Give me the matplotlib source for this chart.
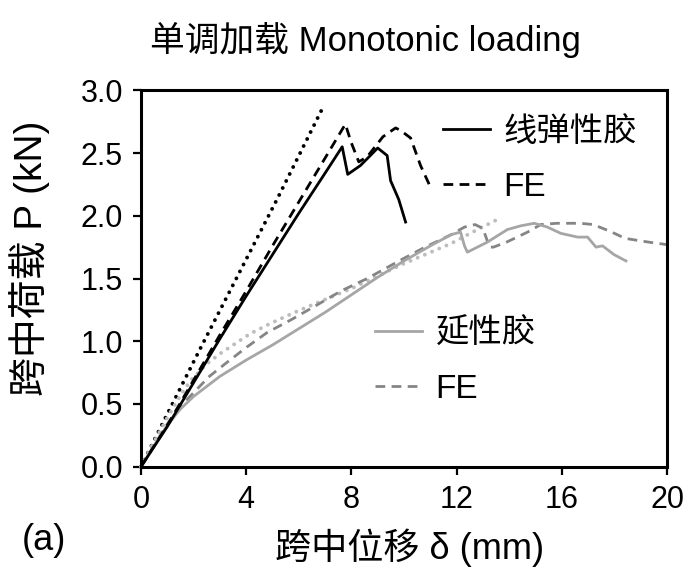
import matplotlib
matplotlib.use("Agg")
import matplotlib.pyplot as plt
from matplotlib.lines import Line2D

plt.rcParams['font.family'] = ['Liberation Sans', 'Noto Sans CJK SC', 'DejaVu Sans']

# ---- data ----
# 线弹性胶 experimental (black solid)
lin_exp_x = [0, 1.0, 2.0, 3.0, 4.0, 5.0, 6.0, 7.0, 7.65, 7.86, 8.34, 8.72, 9.0, 9.36, 9.49, 9.8, 10.06]
lin_exp_y = [0, 0.32, 0.67, 1.02, 1.36, 1.69, 2.02, 2.34, 2.55, 2.33, 2.40, 2.48, 2.54, 2.48, 2.28, 2.13, 1.95]
# 线弹性胶 FE (black dashed)
lin_fe_x = [0, 1.0, 2.0, 3.0, 4.0, 5.0, 6.0, 7.0, 7.77, 8.0, 8.28, 8.6, 9.2, 9.68, 9.87, 10.25, 10.63, 10.98]
lin_fe_y = [0, 0.33, 0.69, 1.05, 1.40, 1.76, 2.11, 2.46, 2.73, 2.58, 2.43, 2.47, 2.63, 2.70, 2.68, 2.62, 2.40, 2.24]
# 线弹性胶 analytical (black dotted)
lin_an_x = [0, 1.0, 2.25, 5.17, 6.98]
lin_an_y = [0, 0.42, 0.94, 2.13, 2.89]
# 延性胶 experimental (grey solid)
duc_exp_x = [0, 0.5, 1.0, 1.5, 2.0, 2.5, 3.0, 4.0, 5.0, 6.0, 7.0, 8.0, 9.0, 10.0, 11.0, 11.8, 12.15,
             12.3, 12.41, 13.17, 13.93, 14.44, 14.95, 15.45, 15.96, 16.6, 16.98, 17.3, 17.55, 17.99, 18.44]
duc_exp_y = [0, 0.17, 0.33, 0.46, 0.56, 0.64, 0.72, 0.85, 0.97, 1.10, 1.23, 1.37, 1.51, 1.64, 1.76, 1.85, 1.87,
             1.76, 1.71, 1.79, 1.89, 1.92, 1.94, 1.91, 1.86, 1.83, 1.83, 1.75, 1.76, 1.69, 1.64]
# 延性胶 FE (grey dashed)
duc_fe_x = [0, 1.0, 1.5, 2.0, 2.6, 3.2, 4.0, 4.8, 5.7, 6.7, 7.6, 8.6, 9.9, 10.8, 11.8, 12.3, 12.7, 13.0,
            13.25, 13.4, 13.9, 14.7, 15.2, 15.8, 16.7, 17.2, 17.9, 18.4, 19.3, 20.0]
duc_fe_y = [0, 0.34, 0.48, 0.59, 0.72, 0.82, 0.95, 1.07, 1.17, 1.29, 1.40, 1.50, 1.65, 1.75, 1.85, 1.91, 1.93, 1.90,
            1.75, 1.75, 1.79, 1.87, 1.93, 1.94, 1.94, 1.93, 1.87, 1.82, 1.79, 1.77]
# 延性胶 analytical (grey dotted)
duc_an_x = [0, 0.5, 1.0, 1.5, 1.9, 2.5, 3.0, 4.15, 5.0, 6.06, 8.0, 9.9, 11.8, 12.7, 13.55]
duc_an_y = [0, 0.20, 0.39, 0.57, 0.69, 0.82, 0.90, 1.06, 1.15, 1.25, 1.42, 1.61, 1.78, 1.88, 1.97]

x_ticks = [0, 4, 8, 12, 16, 20]
y_ticks = [0.0, 0.5, 1.0, 1.5, 2.0, 2.5, 3.0]

title_text = "单调加载 Monotonic loading"
xlabel_text = "跨中位移 δ (mm)"
ylabel_text = "跨中荷载 P (kN)"
legend1_labels = ["线弹性胶", "FE"]
legend2_labels = ["延性胶", "FE"]
panel_label = "(a)"

# ---- figure ----
fig = plt.figure(figsize=(6.88, 5.71), dpi=100)
ax = fig.add_axes([141/688, 1-466.7/571, (667-141)/688, (466.7-90.3)/571])

black = "#000000"
g_solid = "#a6a6a6"
g_dash = "#858585"
g_dot = "#bdbdbd"
lw = 2.0
dash = (0, (3.5, 2.3))
dots = (0, (0.01, 2.0))

ax.plot(lin_an_x, lin_an_y, color=black, lw=2.8, linestyle=dots, dash_capstyle='round', clip_on=False)
ax.plot(duc_an_x, duc_an_y, color=g_dot, lw=2.8, linestyle=dots, dash_capstyle='round', clip_on=False)
ax.plot(duc_fe_x, duc_fe_y, color=g_dash, lw=lw, linestyle=dash)
ax.plot(duc_exp_x, duc_exp_y, color=g_solid, lw=lw)
ax.plot(lin_fe_x, lin_fe_y, color=black, lw=lw, linestyle=dash)
ax.plot(lin_exp_x, lin_exp_y, color=black, lw=lw)

ax.set_xlim(0, 20)
ax.set_ylim(0, 3.0)
ax.set_xticks(x_ticks)
ax.set_xticklabels([str(t) for t in x_ticks])
ax.set_yticks(y_ticks)
ax.set_yticklabels([f"{t:.1f}" for t in y_ticks])
for s in ax.spines.values():
    s.set_linewidth(2.2)
ax.tick_params(direction='out', length=6, width=1.6, labelsize=22, pad=7)

fig.text(365/688, 1-40/571, title_text, ha='center', va='center', fontsize=25)
fig.text(410/688, 1-548/571, xlabel_text, ha='center', va='center', fontsize=26)
fig.text(30/688, 1-258/571, ylabel_text, ha='center', va='center', fontsize=28, rotation=90)
fig.text(44/688, 1-540/571, panel_label, ha='center', va='center', fontsize=26)

h1 = [Line2D([], [], color=black, lw=lw), Line2D([], [], color=black, lw=lw, linestyle=dash)]
h2 = [Line2D([], [], color=g_solid, lw=lw), Line2D([], [], color=g_dash, lw=lw, linestyle=dash)]
common = dict(bbox_transform=fig.transFigure, frameon=False, fontsize=24, loc='center left',
              handlelength=1.4, handletextpad=0.42, labelspacing=0.72, borderpad=0, borderaxespad=0)
leg1 = ax.legend(h1, legend1_labels, bbox_to_anchor=(443/688, 1-160/571), **common)
ax.add_artist(leg1)
leg2 = ax.legend(h2, legend2_labels, bbox_to_anchor=(375/688, 1-362/571), **common)

fig.savefig("out.png", dpi=100)
